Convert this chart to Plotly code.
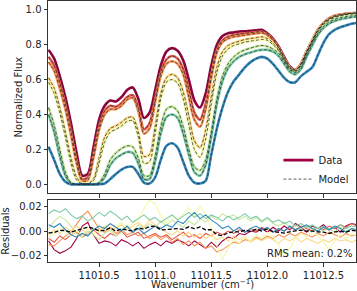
import numpy as np
import plotly.graph_objects as go
from plotly.subplots import make_subplots

# wavenumber grid (cm^-1)
wavenumber = np.round(np.arange(11010.05, 11012.8001, 0.05), 2)

# normalized flux for the 8 spectra (top to bottom)
flux_1 = [0.77, 0.72, 0.62, 0.50, 0.35, 0.18, 0.05, 0.06, 0.21, 0.37, 0.45, 0.48, 0.475, 0.50, 0.54, 0.555,
          0.49, 0.38, 0.41, 0.54, 0.68, 0.76, 0.78, 0.765, 0.71, 0.60, 0.48, 0.44, 0.52, 0.68, 0.80, 0.85,
          0.865, 0.87, 0.875, 0.877, 0.88, 0.882, 0.885, 0.865, 0.835, 0.79, 0.73, 0.675, 0.655, 0.69, 0.76,
          0.82, 0.88, 0.92, 0.945, 0.96, 0.97, 0.975, 0.98, 0.98]
flux_2 = [0.73, 0.68, 0.58, 0.46, 0.31, 0.14, 0.03, 0.04, 0.17, 0.33, 0.42, 0.45, 0.445, 0.465, 0.50, 0.51,
          0.44, 0.315, 0.35, 0.49, 0.64, 0.715, 0.735, 0.72, 0.66, 0.54, 0.41, 0.37, 0.46, 0.63, 0.77, 0.825,
          0.845, 0.855, 0.86, 0.865, 0.868, 0.872, 0.875, 0.86, 0.83, 0.785, 0.725, 0.67, 0.655, 0.69, 0.76,
          0.825, 0.885, 0.925, 0.95, 0.965, 0.972, 0.977, 0.98, 0.982]
flux_3 = [0.70, 0.65, 0.55, 0.43, 0.28, 0.12, 0.02, 0.025, 0.15, 0.31, 0.40, 0.43, 0.43, 0.45, 0.485, 0.495,
          0.42, 0.29, 0.32, 0.47, 0.62, 0.69, 0.705, 0.69, 0.63, 0.50, 0.37, 0.33, 0.43, 0.61, 0.755, 0.815,
          0.835, 0.845, 0.85, 0.855, 0.86, 0.864, 0.868, 0.855, 0.825, 0.78, 0.72, 0.67, 0.65, 0.69, 0.76,
          0.825, 0.885, 0.925, 0.95, 0.965, 0.972, 0.977, 0.98, 0.982]
flux_4 = [0.61, 0.55, 0.44, 0.30, 0.15, 0.04, 0.005, 0.005, 0.03, 0.15, 0.27, 0.32, 0.335, 0.355, 0.38, 0.385,
          0.30, 0.16, 0.17, 0.33, 0.52, 0.61, 0.63, 0.61, 0.53, 0.39, 0.25, 0.21, 0.31, 0.50, 0.67, 0.76,
          0.795, 0.81, 0.82, 0.83, 0.835, 0.84, 0.845, 0.835, 0.81, 0.77, 0.715, 0.665, 0.65, 0.685, 0.755,
          0.82, 0.88, 0.92, 0.945, 0.96, 0.968, 0.973, 0.977, 0.98]
flux_5 = [0.585, 0.52, 0.41, 0.27, 0.12, 0.025, 0.003, 0.003, 0.02, 0.12, 0.24, 0.30, 0.315, 0.335, 0.36, 0.365,
          0.27, 0.12, 0.13, 0.29, 0.49, 0.585, 0.60, 0.58, 0.49, 0.34, 0.20, 0.155, 0.26, 0.46, 0.64, 0.735,
          0.775, 0.795, 0.805, 0.815, 0.82, 0.825, 0.83, 0.825, 0.80, 0.765, 0.71, 0.66, 0.645, 0.68, 0.75,
          0.815, 0.875, 0.915, 0.94, 0.955, 0.965, 0.97, 0.975, 0.978]
flux_6 = [0.44, 0.34, 0.20, 0.07, 0.01, 0.0, 0.0, 0.0, 0.0, 0.01, 0.06, 0.14, 0.18, 0.205, 0.22, 0.215,
          0.15, 0.05, 0.05, 0.16, 0.33, 0.43, 0.445, 0.42, 0.33, 0.20, 0.10, 0.08, 0.14, 0.30, 0.49, 0.62,
          0.69, 0.73, 0.755, 0.77, 0.78, 0.79, 0.795, 0.79, 0.775, 0.75, 0.70, 0.655, 0.64, 0.67, 0.74,
          0.805, 0.865, 0.905, 0.93, 0.945, 0.955, 0.96, 0.965, 0.968]
flux_7 = [0.40, 0.30, 0.16, 0.05, 0.005, 0.0, 0.0, 0.0, 0.0, 0.005, 0.04, 0.11, 0.15, 0.17, 0.185, 0.18,
          0.12, 0.03, 0.03, 0.13, 0.29, 0.385, 0.40, 0.38, 0.29, 0.17, 0.07, 0.05, 0.11, 0.27, 0.46, 0.59,
          0.665, 0.705, 0.73, 0.745, 0.755, 0.765, 0.77, 0.77, 0.76, 0.735, 0.69, 0.645, 0.63, 0.66, 0.73,
          0.795, 0.855, 0.895, 0.92, 0.935, 0.945, 0.952, 0.957, 0.96]
flux_8 = [0.215, 0.14, 0.06, 0.015, 0.0, 0.0, 0.0, 0.0, 0.0, 0.0, 0.005, 0.03, 0.06, 0.085, 0.10, 0.10,
          0.06, 0.01, 0.005, 0.04, 0.14, 0.22, 0.235, 0.21, 0.13, 0.05, 0.01, 0.005, 0.02, 0.17, 0.32, 0.44,
          0.53, 0.59, 0.63, 0.67, 0.70, 0.72, 0.73, 0.72, 0.69, 0.65, 0.61, 0.585, 0.585, 0.62, 0.645,
          0.67, 0.74, 0.81, 0.86, 0.885, 0.90, 0.91, 0.92, 0.925]

# residuals, in units of 1e-3
res_1 = [-8, -15, -18, -16, -13, -6, 4, 7, -3, -10, -8, -9, -12, -7, -9, -12, -9, -14, -11, -9, -12, -8, -10, -7,
         -9, -12, -8, -11, -14, -9, -13, -8, -5, -6, -2, -3, 0, -1, 2, -1, 3, 0, 4, 1, 6, 3, -1, 4, 2, 5, 1, 3,
         -1, 4, 6, 5]
res_2 = [-6, -9, -4, -7, -3, -1, -5, -2, 1, -3, -6, -2, -4, 0, -5, -3, -1, -6, -4, -2, -5, -3, -7, -4, -1, -5,
         -3, -6, -2, -4, -1, -3, 0, -2, 1, -1, 2, 0, 3, 1, -1, 2, 0, 3, 1, 4, 2, 0, 3, 1, 4, 2, 5, 3, 6, 4]
res_3 = [-11, -12, -8, -4, -1, 5, 12, 16, 9, 2, -1, 3, -2, 1, -3, -1, -4, -2, -6, -3, -7, -4, -9, -6, -11, -8,
         -12, -9, -14, -12, -17, -15, -12, -9, -10, -7, -8, -5, -7, -4, -6, -3, -5, -2, -4, -1, -3, -5, -2, -4,
         -1, -3, -5, -2, -4, -3]
res_4 = [-3, 1, -2, 3, 0, 4, 1, -2, 2, -1, 3, 6, 2, 5, 1, 4, 7, 3, 9, 5, 2, -1, -3, 0, -4, -1, -5, -2, -6, -3,
         -7, -5, -8, -4, -7, -5, -9, -6, -8, -5, -7, -10, -6, -8, -5, -9, -6, -8, -10, -7, -9, -6, -8, -7, -9, -7]
res_5 = [-5, -2, 3, -1, -4, 0, -3, 2, -2, 1, 4, 0, 3, 7, 3, 6, 10, 18, 25, 22, 12, 6, 13, 9, 14, 19, 12, 20,
         14, 2, -12, -23, -14, -6, -10, -4, -8, -3, -6, -1, -4, -12, -19, -14, -6, -2, -5, 0, -4, -9, -15, -8,
         -3, -6, -2, -4]
res_6 = [2, 8, 12, 9, 4, -2, -5, 0, -3, -7, -2, 1, -4, -1, 3, 0, 5, 2, 6, 3, 8, 4, 9, 6, 3, 8, 5, 10, 7, 12,
         9, 14, 11, 13, 9, 12, 8, 11, 7, 10, 6, 4, 7, 3, 5, 2, 4, 1, 3, 0, 2, -1, 3, 0, 2, 1]
res_7 = [14, 17, 15, 18, 13, 10, 12, 8, 11, 15, 12, 16, 13, 9, 12, 7, 10, 13, 9, 11, 7, 10, 13, 9, 12, 15, 11,
         14, 10, 13, 11, 8, 12, 9, 11, 14, 10, 12, 8, 11, 7, 9, 6, 8, 4, 6, 3, 5, 2, 4, 1, 3, 5, 2, 4, 3]
res_8 = [5, 3, 6, 1, -3, -5, -2, -4, 1, 4, 2, 6, 3, 0, 4, -1, 2, -2, 1, 4, 2, 5, 3, 8, 6, 11, 15, 10, 13, 9, 6,
         2, 4, 0, 3, -1, 2, 4, 1, 3, -1, 2, 0, 4, 1, 3, 5, 2, 0, 3, 1, 4, 2, -1, 2, 1]

colors = ['#9e0142', '#e25a4b', '#f99254', '#fed985', '#f3f9ac', '#c6e89d', '#7acaa5', '#3288bd']

fluxes = [flux_1, flux_2, flux_3, flux_4, flux_5, flux_6, flux_7, flux_8]
residuals = [np.array(r) * 1e-3 for r in [res_1, res_2, res_3, res_4, res_5, res_6, res_7, res_8]]
mean_res = np.mean(residuals, axis=0)

fig = make_subplots(rows=2, cols=1, shared_xaxes=False)

for i, (f, c) in enumerate(zip(fluxes, colors)):
    fig.add_trace(go.Scatter(x=wavenumber, y=f, mode='lines', line=dict(color=c, width=2.6, shape='spline', smoothing=0.8),
                             name='Data', showlegend=(i == 0), legendrank=1), row=1, col=1)
for i, f in enumerate(fluxes):
    fig.add_trace(go.Scatter(x=wavenumber, y=f, mode='lines',
                             line=dict(color='rgba(40,40,40,0.75)', width=1, dash='3px,2px', shape='spline', smoothing=0.8),
                             name='Model', showlegend=(i == 0), legendrank=2), row=1, col=1)

for r, c in zip(residuals, colors):
    fig.add_trace(go.Scatter(x=wavenumber, y=r, mode='lines', line=dict(color=c, width=1.1),
                             showlegend=False), row=2, col=1)
fig.add_trace(go.Scatter(x=wavenumber, y=mean_res, mode='lines', line=dict(color='black', width=1.3, dash='4px,2px'),
                         showlegend=False), row=2, col=1)

font = dict(family='DejaVu Sans', size=10, color='#222')
axis_common = dict(showline=True, mirror=True, linecolor='#333', linewidth=1, ticks='outside', ticklen=3.5,
                   tickcolor='#333', showgrid=False, zeroline=False, tickfont=font, automargin=False)

xr = [11010.045, 11012.79]
fig.update_xaxes(range=xr, dtick=0.5, tick0=11010.5, tickformat='.1f', **axis_common)
fig.update_xaxes(showticklabels=False, row=1, col=1)
fig.update_yaxes(**axis_common)
fig.update_yaxes(range=[-0.05, 1.05], dtick=0.2, tick0=0, tickformat='.1f',
                 title=dict(text='Normalized Flux', font=font, standoff=1), domain=[0.264, 1.0], row=1, col=1)
fig.update_yaxes(range=[-0.025, 0.025], dtick=0.02, tick0=0, tickformat='.2f',
                 title=dict(text='Residuals', font=font, standoff=1), domain=[0.0, 0.2375], row=2, col=1)

fig.add_annotation(text='RMS mean: 0.2%', xref='paper', yref='y2', x=0.995, y=-0.018, xanchor='right',
                   yanchor='middle', showarrow=False, font=font)
fig.add_annotation(text='Wavenumber (cm<sup>−1</sup>)', xref='paper', yref='paper', x=0.5, y=-0.112,
                   xanchor='center', yanchor='bottom', showarrow=False, font=font, borderpad=0)

fig.update_layout(width=357, height=291, margin=dict(l=48, r=1, t=1, b=29),
                  plot_bgcolor='white', paper_bgcolor='white', font=font,
                  legend=dict(x=0.995, y=0.262, xanchor='right', yanchor='bottom', bgcolor='rgba(0,0,0,0)',
                              font=font, tracegroupgap=0, itemwidth=30))
fig.write_html('out.html', config={'displayModeBar': False},
               post_script="document.body.style.margin='0';document.body.style.overflow='hidden';")
